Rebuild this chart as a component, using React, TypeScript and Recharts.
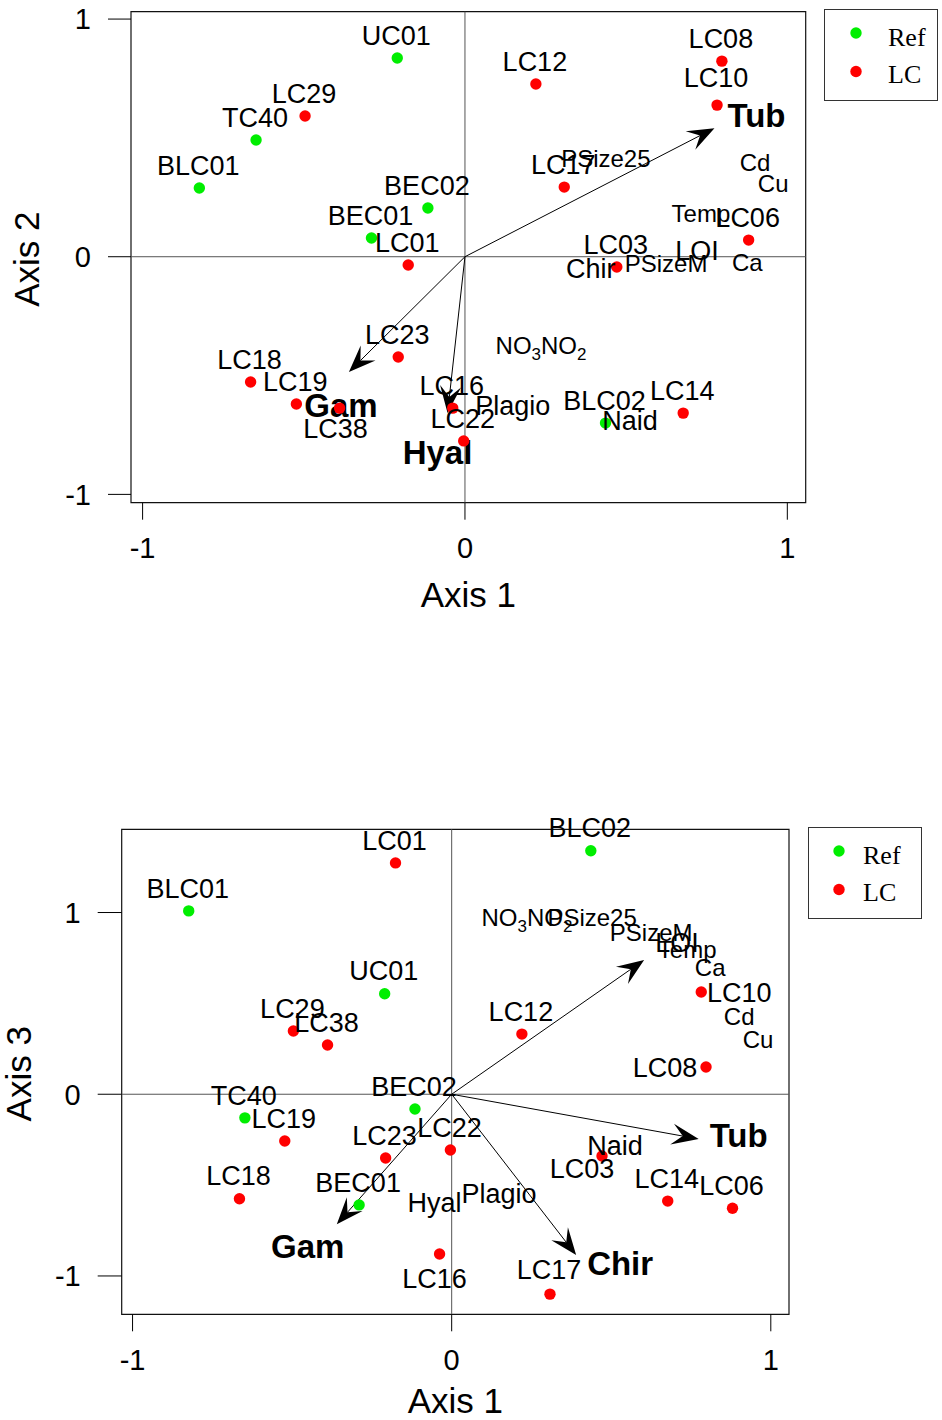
import React from 'react';
import {
  ScatterChart,
  Scatter,
  XAxis,
  YAxis,
  ReferenceLine,
  ReferenceArea,
  Legend,
  Label
} from 'recharts';

const FONT = '"Liberation Sans", Arial, Helvetica, sans-serif';
const SERIF = '"Liberation Serif", "Times New Roman", serif';

// site scores
const sites = ['BLC01', 'BLC02', 'BEC01', 'BEC02', 'TC40', 'UC01', 'LC01', 'LC03', 'LC06', 'LC08', 'LC10',
  'LC12', 'LC14', 'LC16', 'LC17', 'LC18', 'LC19', 'LC22', 'LC23', 'LC29', 'LC38'];
const siteGroups = ['Ref', 'Ref', 'Ref', 'Ref', 'Ref', 'Ref', 'LC', 'LC', 'LC', 'LC', 'LC',
  'LC', 'LC', 'LC', 'LC', 'LC', 'LC', 'LC', 'LC', 'LC', 'LC'];
const siteAxis1 = [-0.824, 0.436, -0.29, -0.115, -0.648, -0.21, -0.176, 0.471, 0.88, 0.797, 0.782,
  0.22, 0.677, -0.038, 0.308, -0.665, -0.523, -0.004, -0.207, -0.496, -0.389];
const siteAxis2 = [0.289, -0.7, 0.079, 0.205, 0.491, 0.836, -0.035, -0.043, 0.07, 0.823, 0.638,
  0.727, -0.658, -0.637, 0.293, -0.527, -0.62, -0.775, -0.422, 0.592, -0.637];
const siteAxis3 = [1.009, 1.34, -0.609, -0.081, -0.13, 0.553, 1.273, -0.34, -0.627, 0.15, 0.563,
  0.331, -0.588, -0.879, -1.1, -0.575, -0.257, -0.307, -0.351, 0.348, 0.271];

// species scores
const species = ['Tub', 'Gam', 'Hyal', 'Chir', 'Plagio', 'Naid'];
const speciesAxis1 = [0.774, -0.36, -0.054, 0.39, 0.148, 0.512];
const speciesAxis2 = [0.541, -0.485, -0.658, -0.048, -0.624, -0.687];
const speciesAxis3 = [-0.246, -0.716, -0.593, -0.885, -0.544, -0.28];
const arrowSpecies2 = ['Tub', 'Gam', 'Hyal'];
const arrowSpecies3 = ['Tub', 'Gam', 'Chir'];
const extraVector3 = [0.603, 0.739];

// environmental variables (label positions)
const envNames = ['NO3NO2', 'PSize25', 'PSizeM', 'LOI', 'Temp', 'Ca', 'Cd', 'Cu'];
const envAxis1Top = [0.236, 0.437, 0.624, 0.72, 0.732, 0.876, 0.9, 0.956];
const envAxis2 = [-0.371, 0.415, -0.027, 0.028, 0.184, -0.022, 0.398, 0.31];
const envAxis1Bottom = [0.236, 0.44, 0.625, 0.706, 0.738, 0.81, 0.901, 0.96];
const envAxis3 = [0.976, 0.976, 0.893, 0.838, 0.795, 0.7, 0.426, 0.3];

const ticks = [-1, 0, 1];
const groupColors: Record<string, string> = { Ref: '#00ee00', LC: '#ff0000' };

type Off = Record<string, [number, number]>;

const siteLabelOffTop: Off = { LC38: [-4, 20], LC10: [-1, -28] };
const siteLabelOffBottom: Off = {
  LC10: [38, 0], LC08: [-41, 0], LC16: [-5, 24], LC03: [-20, 12], LC17: [-1, -25]
};
const boldOffTop: Off = { Tub: [42, -13], Gam: [-8, 33], Hyal: [-10, 39] };
const boldOffBottom: Off = { Tub: [40, -4], Chir: [44, 8], Gam: [-29, 22] };

function arrowShape(label: string, off: [number, number]) {
  return (p: any) => {
    const { x1, y1, x2, y2 } = p;
    const a = Math.atan2(y2 - y1, x2 - x1);
    const c = Math.cos(a);
    const s = Math.sin(a);
    const L = 27;
    const W = 10.5;
    const pt = (u: number, v: number) => [x2 + u * c - v * s, y2 + u * s + v * c];
    const w1 = pt(-L, -W);
    const n = pt(-L * 0.6, 0);
    const w2 = pt(-L, W);
    return (
      <g>
        <line x1={x1} y1={y1} x2={n[0]} y2={n[1]} stroke="#000" strokeWidth={1} />
        <polygon points={`${x2},${y2} ${w1[0]},${w1[1]} ${n[0]},${n[1]} ${w2[0]},${w2[1]}`} fill="#000" />
        {label && (
          <text x={x2 + off[0]} y={y2 + off[1]} dy="0.36em" textAnchor="middle"
            fontFamily={FONT} fontWeight="bold" fontSize={33} fill="#000">
            {label}
          </text>
        )}
      </g>
    );
  };
}

const dotShape = (color: string) => (p: any) => (
  <circle cx={p.cx} cy={p.cy} r={5.7} fill={color} />
);

const siteLabelShape = (offs: Off, def: [number, number]) => (p: any) => {
  const name = p.payload.name;
  const o = offs[name] || def;
  return (
    <text x={p.cx + o[0]} y={p.cy + o[1]} dy="0.36em" textAnchor="middle"
      fontFamily={FONT} fontSize={27} fill="#000">
      {name}
    </text>
  );
};

const plainLabelShape = (p: any) => {
  const name: string = p.payload.name;
  const size = p.payload.size;
  if (name === 'NO3NO2') {
    return (
      <text x={p.cx} y={p.cy} dy="0.36em" textAnchor="middle" fontFamily={FONT} fontSize={size} fill="#000">
        <tspan>NO</tspan>
        <tspan dy={6} fontSize={17}>3</tspan>
        <tspan dy={-6}>NO</tspan>
        <tspan dy={6} fontSize={17}>2</tspan>
      </text>
    );
  }
  return (
    <text x={p.cx} y={p.cy} dy="0.36em" textAnchor="middle" fontFamily={FONT} fontSize={size} fill="#000">
      {name}
    </text>
  );
};

function LegendBox({ dotX, textX }: { dotX: number; textX: number }) {
  return (
    <svg width={115} height={93} style={{ display: 'block' }}>
      <rect x={0.5} y={0.5} width={113} height={91} fill="#fff" stroke="#333" />
      {['Ref', 'LC'].map((g, i) => (
        <g key={g}>
          <circle cx={dotX} cy={24 + i * 38.5} r={5.7} fill={groupColors[g]} />
          <text x={textX} y={28 + i * 37} dy="0.33em" fontFamily={SERIF} fontSize={26} fill="#000">{g}</text>
        </g>
      ))}
    </svg>
  );
}

interface PanelProps {
  yValues: number[];
  yLabel: string;
  xDomain: [number, number];
  yDomain: [number, number];
  height: number;
  margin: { top: number; right: number; bottom: number; left: number };
  yAxisWidth: number;
  xAxisHeight: number;
  yTickSize: number;
  xTitleOffset: number;
  yTitleX: number;
  envX: number[];
  envY: number[];
  speciesY: number[];
  arrowSpecies: string[];
  boldOff: Off;
  siteOff: Off;
  siteDef: [number, number];
  extra?: number[];
  legendPos: { left: number; top: number; dotX: number; textX: number };
}

function Biplot(props: PanelProps) {
  const {
    yValues, yLabel, xDomain, yDomain, height, margin, yAxisWidth, xAxisHeight, yTickSize,
    xTitleOffset, yTitleX, envX, envY, speciesY, arrowSpecies, boldOff, siteOff, siteDef, extra, legendPos
  } = props;

  const siteRows = sites.map((name, i) => ({ name, group: siteGroups[i], x: siteAxis1[i], y: yValues[i] }));
  const refRows = siteRows.filter(r => r.group === 'Ref');
  const lcRows = siteRows.filter(r => r.group === 'LC');
  const envRows = envNames.map((name, i) => ({ name, x: envX[i], y: envY[i], size: name === 'LOI' ? 27 : 24 }));
  const plainSpecies = species
    .map((name, i) => ({ name, x: speciesAxis1[i], y: speciesY[i], size: 27 }))
    .filter(r => !arrowSpecies.includes(r.name));
  const arrows = species
    .map((name, i) => ({ name, x: speciesAxis1[i], y: speciesY[i] }))
    .filter(r => arrowSpecies.includes(r.name));

  const tickStyle = { fontSize: 29, fill: '#000', fontFamily: FONT };

  const xTitle = (lp: any) => {
    const vb = lp.viewBox || {};
    return (
      <text x={vb.x + vb.width / 2} y={vb.y + xTitleOffset} dy="0.36em" textAnchor="middle"
        fontFamily={FONT} fontSize={35} fill="#000">Axis 1</text>
    );
  };
  const yTitle = (lp: any) => {
    const vb = lp.viewBox || {};
    const cx = vb.x + yTitleX;
    const cy = vb.y + vb.height / 2 + 2;
    return (
      <text x={cx} y={cy} dy="0.36em" textAnchor="middle" transform={`rotate(-90 ${cx} ${cy})`}
        fontFamily={FONT} fontSize={35} fill="#000">{yLabel}</text>
    );
  };

  return (
    <ScatterChart width={942} height={height} margin={margin}>
      <XAxis type="number" dataKey="x" domain={xDomain} ticks={ticks}
        axisLine={false} tickSize={17} tickMargin={18} height={xAxisHeight}
        tickLine={{ stroke: '#000' }} tick={tickStyle}>
        <Label content={xTitle} />
      </XAxis>
      <YAxis type="number" dataKey="y" domain={yDomain} ticks={ticks}
        axisLine={false} tickSize={yTickSize} tickMargin={17} width={yAxisWidth}
        tickLine={{ stroke: '#000' }} tick={tickStyle}>
        <Label content={yTitle} />
      </YAxis>
      <ReferenceArea x1={xDomain[0]} x2={xDomain[1]} y1={yDomain[0]} y2={yDomain[1]}
        fill="none" fillOpacity={0} stroke="#111" strokeWidth={1.2} ifOverflow="visible" />
      <ReferenceLine x={0} stroke="#555" strokeWidth={1} />
      <ReferenceLine y={0} stroke="#555" strokeWidth={1} />
      <Scatter data={refRows} shape={dotShape(groupColors.Ref)} isAnimationActive={false} />
      <Scatter data={lcRows} shape={dotShape(groupColors.LC)} isAnimationActive={false} />
      <Scatter data={siteRows} shape={siteLabelShape(siteOff, siteDef)} isAnimationActive={false} />
      <Scatter data={envRows} shape={plainLabelShape} isAnimationActive={false} />
      <Scatter data={plainSpecies} shape={plainLabelShape} isAnimationActive={false} />
      {arrows.map(a => (
        <ReferenceLine key={a.name} segment={[{ x: 0, y: 0 }, { x: a.x, y: a.y }]}
          ifOverflow="visible" shape={arrowShape(a.name, boldOff[a.name])} />
      ))}
      {extra && (
        <ReferenceLine segment={[{ x: 0, y: 0 }, { x: extra[0], y: extra[1] }]}
          ifOverflow="visible" shape={arrowShape('', [0, 0])} />
      )}
      <Legend layout="horizontal" verticalAlign="middle" align="center"
        wrapperStyle={{ left: legendPos.left, top: legendPos.top, width: 115, height: 93 }}
        content={() => <LegendBox dotX={legendPos.dotX} textX={legendPos.textX} />} />
    </ScatterChart>
  );
}

export default function App() {
  return (
    <div style={{ position: 'absolute', left: 0, top: 0, width: 942, height: 1420, background: '#fff' }}>
      <div style={{ position: 'absolute', left: 0, top: 0 }}>
        <Biplot
          yValues={siteAxis2}
          yLabel="Axis 2"
          xDomain={[-1.036, 1.057]}
          yDomain={[-1.035, 1.031]}
          height={620}
          margin={{ top: 11.7, right: 136.3, bottom: 17.3, left: 0 }}
          yAxisWidth={131}
          xAxisHeight={100}
          yTickSize={23}
          xTitleOffset={91.5}
          yTitleX={26}
          envX={envAxis1Top}
          envY={envAxis2}
          speciesY={speciesAxis2}
          arrowSpecies={arrowSpecies2}
          boldOff={boldOffTop}
          siteOff={siteLabelOffTop}
          siteDef={[-1, -23]}
          legendPos={{ left: 824, top: 9, dotX: 32, textX: 64 }}
        />
      </div>
      <div style={{ position: 'absolute', left: 0, top: 800 }}>
        <Biplot
          yValues={siteAxis3}
          yLabel="Axis 3"
          xDomain={[-1.034, 1.057]}
          yDomain={[-1.211, 1.458]}
          height={620}
          margin={{ top: 29.3, right: 153, bottom: 15.7, left: 0 }}
          yAxisWidth={121.7}
          xAxisHeight={90}
          yTickSize={24}
          xTitleOffset={86}
          yTitleX={18}
          envX={envAxis1Bottom}
          envY={envAxis3}
          speciesY={speciesAxis3}
          arrowSpecies={arrowSpecies3}
          boldOff={boldOffBottom}
          siteOff={siteLabelOffBottom}
          siteDef={[-1, -23]}
          extra={extraVector3}
          legendPos={{ left: 808, top: 27, dotX: 31, textX: 55 }}
        />
      </div>
    </div>
  );
}
